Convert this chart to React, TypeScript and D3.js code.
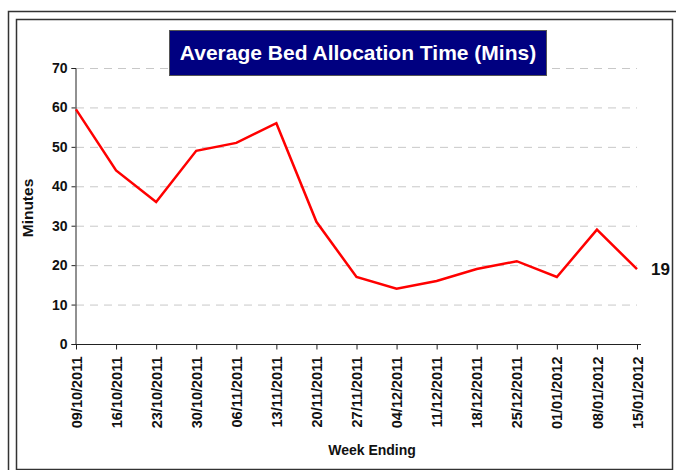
import { useEffect, useRef } from 'react';
import * as d3 from 'd3';

const weeks = [
  '09/10/2011', '16/10/2011', '23/10/2011', '30/10/2011', '06/11/2011',
  '13/11/2011', '20/11/2011', '27/11/2011', '04/12/2011', '11/12/2011',
  '18/12/2011', '25/12/2011', '01/01/2012', '08/01/2012', '15/01/2012',
];
const minutes = [59.5, 44, 36, 49, 51, 56, 31, 17, 14, 16, 19, 21, 17, 29, 19];
const yTicks = [0, 10, 20, 30, 40, 50, 60, 70];

const FONT = '"Liberation Sans", Arial, sans-serif';

const App = () => {
  const svgRef = useRef<SVGSVGElement>(null);

  useEffect(() => {
    const width = 676;
    const height = 470;
    const margin = { top: 68, right: 39, bottom: 126, left: 76 };

    const svg = d3.select(svgRef.current).attr('width', width).attr('height', height);
    svg.selectAll('*').remove();

    // frames
    svg.append('rect')
      .attr('x', 8.5).attr('y', 11.5).attr('width', 700).attr('height', 500)
      .attr('fill', 'none').attr('stroke', '#333').attr('stroke-width', 1.5);
    svg.append('rect')
      .attr('x', 16.5).attr('y', 19.5).attr('width', 656).attr('height', 450)
      .attr('fill', 'white').attr('stroke', '#333').attr('stroke-width', 1.5);

    const x = d3.scalePoint<string>()
      .domain(weeks)
      .range([margin.left, width - margin.right]);

    const y = d3.scaleLinear()
      .domain([0, 70])
      .range([height - margin.bottom, margin.top]);

    // gridlines
    svg.append('g')
      .selectAll('line')
      .data(yTicks.filter((d) => d > 0))
      .join('line')
      .attr('x1', margin.left)
      .attr('x2', width - margin.right)
      .attr('y1', (d) => y(d) + 0.5)
      .attr('y2', (d) => y(d) + 0.5)
      .attr('stroke', '#c8c8c8')
      .attr('stroke-dasharray', '8,6');

    // title box
    svg.append('rect')
      .attr('x', 169.5).attr('y', 30.5).attr('width', 377).attr('height', 45)
      .attr('fill', '#000080').attr('stroke', '#555').attr('stroke-width', 1);
    svg.append('text')
      .attr('x', 358).attr('y', 60)
      .attr('text-anchor', 'middle')
      .attr('fill', 'white')
      .style('font-family', FONT)
      .style('font-weight', 'bold')
      .style('font-size', '21px')
      .text('Average Bed Allocation Time (Mins)');

    // y axis
    const yAxis = svg.append('g')
      .attr('transform', `translate(${margin.left - 0.5},0)`)
      .call(d3.axisLeft(y).tickValues(yTicks).tickSize(4).tickPadding(4));
    yAxis.select('.domain').attr('stroke', '#222');
    yAxis.selectAll('line').attr('stroke', '#222');
    yAxis.selectAll('text')
      .style('font-family', FONT)
      .style('font-weight', 'bold')
      .style('font-size', '14px')
      .attr('fill', '#111');

    // x axis
    const xAxis = svg.append('g')
      .attr('transform', `translate(0,${height - margin.bottom + 0.5})`)
      .call(d3.axisBottom(x).tickSize(5).tickSizeOuter(0));
    xAxis.select('.domain').attr('stroke', '#222').attr('d', `M${margin.left - 1},0H${width - margin.right + 4}`);
    xAxis.selectAll('line').attr('stroke', '#222');
    xAxis.selectAll('text')
      .attr('transform', 'rotate(-90)')
      .attr('x', -12)
      .attr('y', 0)
      .attr('dy', '0.35em')
      .style('text-anchor', 'end')
      .style('font-family', FONT)
      .style('font-weight', 'bold')
      .style('font-size', '14.5px')
      .attr('fill', '#111');

    // axis titles
    svg.append('text')
      .attr('transform', `translate(33,208) rotate(-90)`)
      .attr('text-anchor', 'middle')
      .style('font-family', FONT)
      .style('font-weight', 'bold')
      .style('font-size', '15.5px')
      .attr('fill', '#111')
      .text('Minutes');
    svg.append('text')
      .attr('x', 372).attr('y', 455)
      .attr('text-anchor', 'middle')
      .style('font-family', FONT)
      .style('font-weight', 'bold')
      .style('font-size', '14px')
      .attr('fill', '#111')
      .text('Week Ending');

    // line
    const line = d3.line<number>()
      .x((d, i) => x(weeks[i]) as number)
      .y((d) => y(d));

    svg.append('path')
      .datum(minutes)
      .attr('fill', 'none')
      .attr('stroke', '#ff0000')
      .attr('stroke-width', 2.5)
      .attr('stroke-linejoin', 'miter')
      .attr('d', line);

    // last value label
    const last = minutes.length - 1;
    svg.append('text')
      .attr('x', (x(weeks[last]) as number) + 14)
      .attr('y', y(minutes[last]))
      .attr('dy', '0.35em')
      .style('font-family', FONT)
      .style('font-weight', 'bold')
      .style('font-size', '17px')
      .attr('fill', '#111')
      .text(String(minutes[last]));
  }, []);

  return (
    <div>
      <svg ref={svgRef} style={{ position: 'absolute', left: 0, top: 0 }}></svg>
    </div>
  );
};

export default App;
